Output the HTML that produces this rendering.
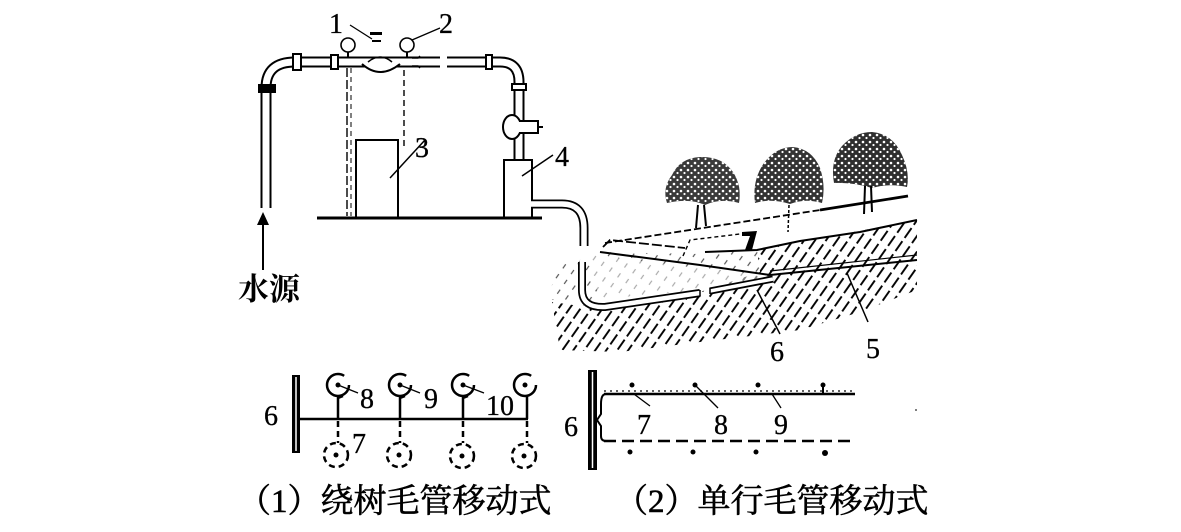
<!DOCTYPE html>
<html><head><meta charset="utf-8"><style>
html,body{margin:0;padding:0;background:#fff;}
svg{display:block;}
.n{font-family:"Liberation Serif",serif;font-size:28px;fill:#000;stroke:#000;stroke-width:0.3;}
.c{font-family:"Liberation Serif","Noto Serif CJK SC",serif;font-size:33px;fill:#000;stroke:#000;stroke-width:0.6;}
</style></head><body>
<svg width="1181" height="532" viewBox="0 0 1181 532" xmlns="http://www.w3.org/2000/svg">
<defs>
<pattern id="hd" patternUnits="userSpaceOnUse" width="9" height="16" patternTransform="rotate(35)">
<line x1="4.5" y1="0" x2="4.5" y2="12" stroke="#000" stroke-width="1.9"/>
</pattern>
<pattern id="hs" patternUnits="userSpaceOnUse" width="10" height="12" patternTransform="rotate(35)">
<line x1="5" y1="0" x2="5" y2="5" stroke="#555" stroke-width="1.2"/>
</pattern>
<pattern id="sp" patternUnits="userSpaceOnUse" width="7" height="7">
<circle cx="2" cy="2" r="1.3" fill="#fff"/><circle cx="5.5" cy="5" r="1.1" fill="#fff"/>
</pattern>
</defs>

<!-- ground hatching -->
<polygon points="552,302 580,306 700,292 760,272 757,250 917,220 917,290 860,312 800,330 700,342 620,352 560,350" fill="url(#hd)"/>
<polygon points="558,262 600,252 700,254 757,250 760,272 700,290 590,300 548,300" fill="url(#hs)"/>
<polygon points="590,255 700,268 770,276 700,291 600,306" fill="#fff" opacity="0.5"/>

<!-- left supply pipe -->
<path d="M266,208 L266,88 Q266,62 295,62 L440,62" fill="none" stroke="#000" stroke-width="11"/>
<path d="M266,210 L266,88 Q266,62 295,62 L442,62" fill="none" stroke="#fff" stroke-width="7"/>
<rect x="258" y="84" width="18" height="9" fill="#000"/>
<rect x="293" y="54" width="8" height="16" fill="#fff" stroke="#000" stroke-width="2"/>
<rect x="331" y="55" width="7" height="14" fill="#fff" stroke="#000" stroke-width="2"/>
<!-- meter bulge -->
<path d="M362,64 Q380,80 400,64" fill="#fff" stroke="#000" stroke-width="2"/>
<path d="M368,62 Q380,52 392,62" fill="none" stroke="#000" stroke-width="1.5"/>
<path d="M412,58 L418,58 L420,56 M412,66 L418,66 L420,68" fill="none" stroke="#000" stroke-width="1.5"/>
<rect x="370" y="32" width="12" height="3" fill="#000"/><rect x="372" y="40" width="9" height="2" fill="#000"/>
<!-- gauges -->
<circle cx="348" cy="45" r="7" fill="#fff" stroke="#000" stroke-width="1.6"/>
<line x1="348" y1="52" x2="348" y2="58" stroke="#000" stroke-width="2"/>
<circle cx="407" cy="45" r="7" fill="#fff" stroke="#000" stroke-width="1.6"/>
<line x1="407" y1="52" x2="407" y2="58" stroke="#000" stroke-width="2"/>
<!-- dashed verticals -->
<line x1="347" y1="68" x2="347" y2="216" stroke="#000" stroke-width="1.4" stroke-dasharray="9 3"/>
<line x1="351" y1="68" x2="351" y2="216" stroke="#000" stroke-width="1" stroke-dasharray="5 4"/>
<line x1="404" y1="70" x2="404" y2="150" stroke="#000" stroke-width="1.4" stroke-dasharray="6 4"/>
<!-- labels 1 2 pointers -->
<line x1="350" y1="25" x2="372" y2="39" stroke="#000" stroke-width="1.3"/>
<line x1="440" y1="28" x2="412" y2="40" stroke="#000" stroke-width="1.3"/>

<!-- right pipe to pump -->
<path d="M447,62 L500,62 Q519,62 519,82 L519,160" fill="none" stroke="#000" stroke-width="11"/>
<path d="M445,62 L500,62 Q519,62 519,82 L519,162" fill="none" stroke="#fff" stroke-width="7"/>
<rect x="486" y="55" width="6" height="14" fill="#fff" stroke="#000" stroke-width="2"/>
<rect x="512" y="84" width="14" height="6" fill="#fff" stroke="#000" stroke-width="2"/>
<ellipse cx="512" cy="127" rx="9" ry="12" fill="#fff" stroke="#000" stroke-width="2"/>
<path d="M519,121 L538,121 L538,133 L519,133" fill="#fff" stroke="#000" stroke-width="2"/>
<line x1="538" y1="127" x2="543" y2="127" stroke="#000" stroke-width="2"/>

<!-- boxes and ground -->
<rect x="356" y="140" width="42" height="78" fill="#fff" stroke="#000" stroke-width="2"/>
<rect x="504" y="160" width="28" height="58" fill="#fff" stroke="#000" stroke-width="2"/>
<line x1="317" y1="218" x2="542" y2="218" stroke="#000" stroke-width="3"/>
<line x1="390" y1="178" x2="425" y2="140" stroke="#000" stroke-width="1.5"/>
<line x1="522" y1="176" x2="553" y2="155" stroke="#000" stroke-width="1.5"/>

<!-- outlet pipe -->
<path d="M532,204 L562,204 Q584,204 584,228 L584,246" fill="none" stroke="#000" stroke-width="9"/>
<path d="M530,204 L562,204 Q584,204 584,228 L584,248" fill="none" stroke="#fff" stroke-width="5.5"/>
<path d="M582,262 L582,290 Q582,308 605,307 L700,293" fill="none" stroke="#000" stroke-width="8"/>
<path d="M582,260 L582,290 Q582,308 605,307 L700,293" fill="none" stroke="#fff" stroke-width="4.5"/>
<path d="M710,291 L773,279" fill="none" stroke="#000" stroke-width="7"/>
<path d="M710,291 L773,279" fill="none" stroke="#fff" stroke-width="3.5"/>
<line x1="700" y1="290" x2="700" y2="296" stroke="#000" stroke-width="1.5"/>
<line x1="710" y1="288" x2="710" y2="294" stroke="#000" stroke-width="1.5"/>

<!-- slope lines -->
<line x1="605" y1="243" x2="820" y2="210" stroke="#000" stroke-width="1.8" stroke-dasharray="7 3"/>
<line x1="820" y1="210" x2="908" y2="196" stroke="#000" stroke-width="2.8"/>
<path d="M603,247 L610,240 L685,248" fill="none" stroke="#000" stroke-width="1.8" stroke-dasharray="10 3"/>
<path d="M683,256 L690,240 L740,234" fill="none" stroke="#000" stroke-width="1.4" stroke-dasharray="4 3"/>
<path d="M742,232 L757,231 L752,250 L745,250 L750,236 L742,236 Z" fill="#000"/>
<path d="M705,252 L757,250 L800,241 L860,232 L917,220" fill="none" stroke="#000" stroke-width="2"/>
<path d="M600,252 L700,265 L770,275 L917,260" fill="none" stroke="#000" stroke-width="2"/>
<path d="M770,271 L917,255" fill="none" stroke="#000" stroke-width="1.2"/>
<line x1="757" y1="290" x2="780" y2="334" stroke="#000" stroke-width="1.5"/>
<line x1="847" y1="273" x2="868" y2="322" stroke="#000" stroke-width="1.5"/>

<!-- trees -->
<g>
<path d="M667,203 Q662,188 672,175 Q680,158 700,157 Q722,156 733,172 Q742,186 739,203 Q720,198 705,205 Q690,198 667,203 Z" fill="#3a3a3a"/>
<path d="M667,203 Q662,188 672,175 Q680,158 700,157 Q722,156 733,172 Q742,186 739,203 Q720,198 705,205 Q690,198 667,203 Z" fill="url(#sp)"/>
<line x1="698" y1="205" x2="696" y2="228" stroke="#000" stroke-width="2"/><line x1="704" y1="205" x2="706" y2="226" stroke="#000" stroke-width="2"/>
<path d="M755,203 Q752,180 764,163 Q776,147 793,147 Q812,149 820,168 Q826,186 822,203 Q805,198 790,204 Q772,198 755,203 Z" fill="#333"/>
<path d="M755,203 Q752,180 764,163 Q776,147 793,147 Q812,149 820,168 Q826,186 822,203 Q805,198 790,204 Q772,198 755,203 Z" fill="url(#sp)"/>
<line x1="789" y1="205" x2="788" y2="232" stroke="#000" stroke-width="1.5" stroke-dasharray="3 2"/>
<path d="M834,183 Q830,160 842,146 Q855,132 872,132 Q893,134 902,155 Q910,172 907,187 Q890,183 872,188 Q852,182 834,183 Z" fill="#2e2e2e"/>
<path d="M834,183 Q830,160 842,146 Q855,132 872,132 Q893,134 902,155 Q910,172 907,187 Q890,183 872,188 Q852,182 834,183 Z" fill="url(#sp)"/>
<line x1="865" y1="186" x2="864" y2="214" stroke="#000" stroke-width="2"/><line x1="871" y1="186" x2="872" y2="212" stroke="#000" stroke-width="2"/>
</g>

<!-- arrow + water source -->
<line x1="263" y1="222" x2="263" y2="270" stroke="#000" stroke-width="2"/>
<path d="M263,212 L257,225 L269,225 Z" fill="#000"/>

<!-- labels top -->
<text class="n" x="329" y="33">1</text>
<text class="n" x="439" y="33">2</text>
<text class="n" x="415" y="157">3</text>
<text class="n" x="555" y="166">4</text>
<text class="n" x="770" y="361">6</text>
<text class="n" x="866" y="358">5</text>
<text x="238" y="300" style="font-family:'Liberation Serif','Noto Serif CJK SC',serif;font-size:31px;font-weight:bold;">水源</text>

<!-- bottom-left diagram -->
<rect x="292" y="375" width="8" height="78" fill="#000"/>
<line x1="296" y1="377" x2="296" y2="451" stroke="#fff" stroke-width="1.5"/>
<line x1="300" y1="419" x2="528" y2="419" stroke="#000" stroke-width="2.5"/>
<g fill="none" stroke="#000" stroke-width="2.5">
<circle cx="338" cy="385" r="11" stroke-dasharray="58 11"/>
<circle cx="400" cy="385" r="11" stroke-dasharray="58 11"/>
<circle cx="463" cy="385" r="11" stroke-dasharray="58 11"/>
<circle cx="525" cy="385" r="11" stroke-dasharray="58 11"/>
<path d="M343,396 L338,398 L338,419 M405,396 L400,398 L400,419 M468,396 L463,398 L463,419 M527,396 L527,419"/>
</g>
<g stroke="#000" stroke-width="1.3">
<line x1="338" y1="385" x2="358" y2="393"/><line x1="400" y1="385" x2="420" y2="393"/><line x1="463" y1="385" x2="484" y2="393"/>
</g>
<g fill="#000"><circle cx="338" cy="385" r="2.5"/><circle cx="400" cy="385" r="2.5"/><circle cx="463" cy="385" r="2.5"/><circle cx="525" cy="385" r="2.5"/>
<circle cx="336" cy="455" r="2.5"/><circle cx="399" cy="455" r="2.5"/><circle cx="462" cy="456" r="2.5"/><circle cx="524" cy="456" r="2.5"/></g>
<g fill="none" stroke="#000" stroke-width="2.5" stroke-dasharray="6 4">
<circle cx="336" cy="455" r="12"/><circle cx="399" cy="455" r="12"/><circle cx="462" cy="456" r="12"/><circle cx="524" cy="456" r="12"/>
<path d="M338,421 L338,443 M400,421 L400,443 M463,421 L463,443 M527,421 L527,443"/>
</g>
<text class="n" x="264" y="425">6</text>
<text class="n" x="360" y="408">8</text>
<text class="n" x="424" y="408">9</text>
<text class="n" x="486" y="415">10</text>
<text class="n" x="352" y="453">7</text>

<!-- bottom-right diagram -->
<rect x="588" y="370" width="9" height="100" fill="#000"/>
<line x1="592.5" y1="372" x2="592.5" y2="468" stroke="#fff" stroke-width="1.5"/>
<line x1="604" y1="394" x2="855" y2="394" stroke="#000" stroke-width="2.5"/>
<line x1="604" y1="391" x2="852" y2="391" stroke="#000" stroke-width="1.2" stroke-dasharray="2 4"/>
<line x1="604" y1="441" x2="855" y2="441" stroke="#000" stroke-width="2.5" stroke-dasharray="12 6"/>
<path d="M606,394 Q601,394 601,404 L601,414 L597,420 L601,426 L601,436 Q601,441 606,441" fill="none" stroke="#000" stroke-width="2"/>
<g fill="#000"><circle cx="632" cy="385" r="2.5"/><circle cx="695" cy="385" r="2.5"/><circle cx="758" cy="385" r="2.5"/><circle cx="823" cy="385" r="2.5"/>
<circle cx="630" cy="452" r="2.5"/><circle cx="693" cy="452" r="2.5"/><circle cx="756" cy="452" r="2.5"/><circle cx="825" cy="453" r="3"/></g>
<line x1="823" y1="385" x2="823" y2="394" stroke="#000" stroke-width="2"/>
<g stroke="#000" stroke-width="1.3">
<line x1="634" y1="394" x2="650" y2="406"/><line x1="695" y1="385" x2="718" y2="408"/><line x1="772" y1="394" x2="781" y2="408"/>
</g>
<text class="n" x="564" y="436">6</text>
<text class="n" x="637" y="434">7</text>
<text class="n" x="714" y="434">8</text>
<text class="n" x="774" y="434">9</text>
<circle cx="916" cy="410" r="1" fill="#555"/>

<!-- captions -->
<text class="c" x="238" y="512">（1）绕树毛管移动式</text>
<text class="c" x="615" y="512">（2）单行毛管移动式</text>
</svg>
</body></html>
